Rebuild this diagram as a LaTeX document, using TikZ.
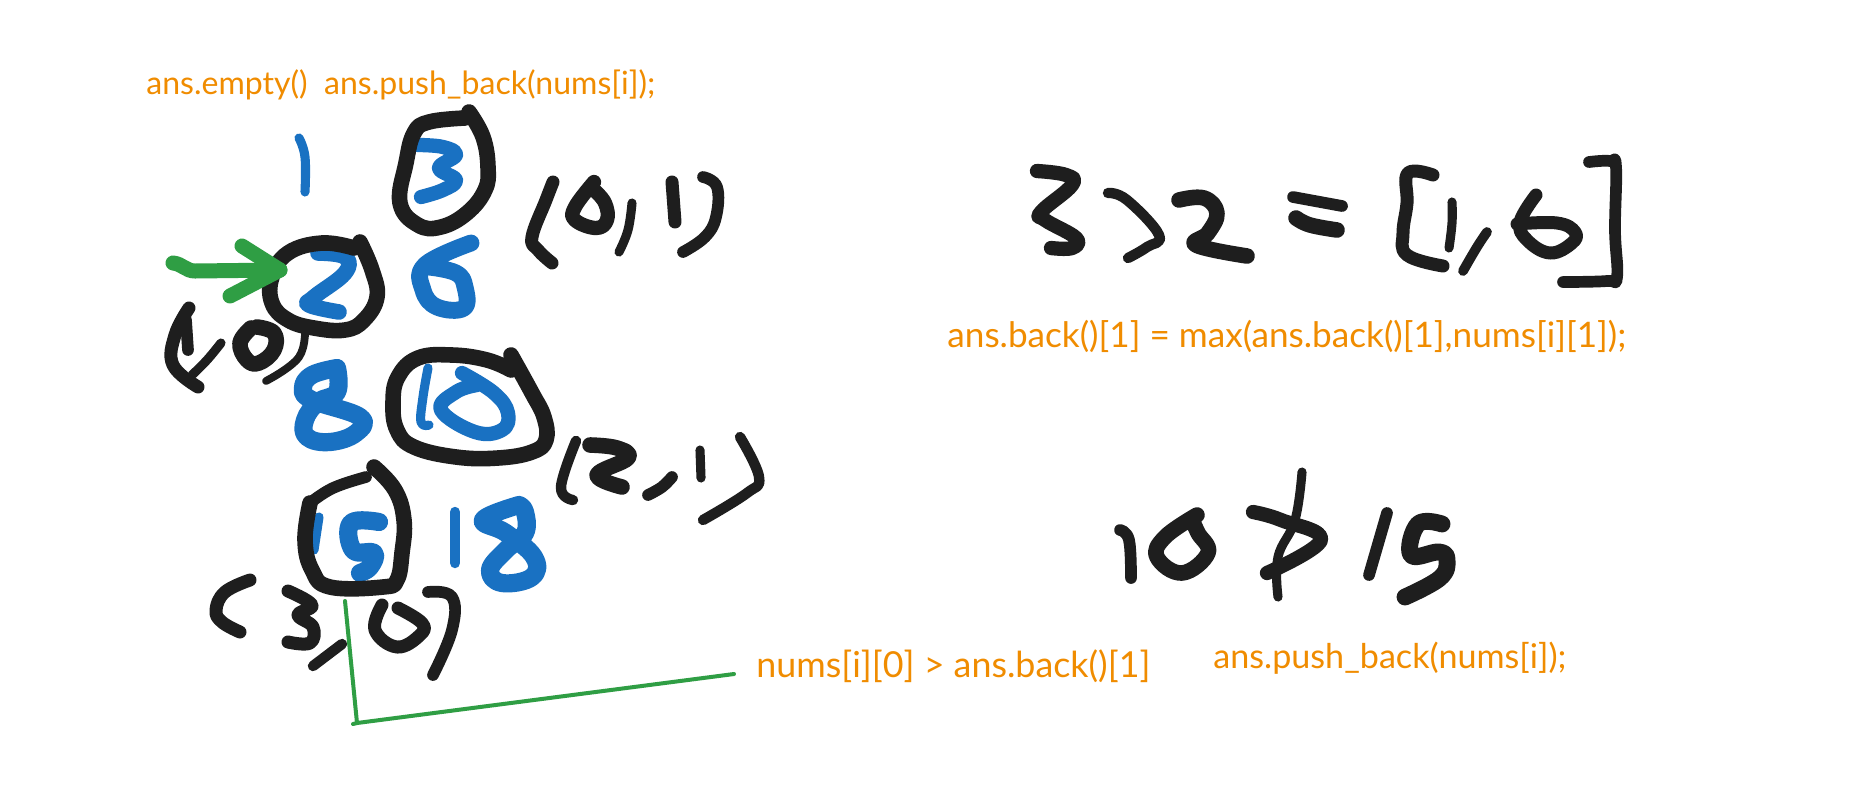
\documentclass[tikz,border=0pt]{standalone}
\usepackage{fontspec}
\setmainfont{Lato}
\definecolor{inkblack}{HTML}{1E1E1E}
\definecolor{inkblue}{HTML}{1971C2}
\definecolor{inkgreen}{HTML}{2F9E44}
\definecolor{inkorange}{HTML}{F08C00}
\tikzset{
  ink/.style={line cap=round,line join=round},
  codetext/.style={text=inkorange,inner sep=0pt,anchor=west},
}
\newcommand{\stk}[3]{\draw[ink,#1,line width=#2*0.65pt] plot[smooth,tension=0.7] coordinates {#3};}
\newcommand{\codefit}[2]{\resizebox{#1pt}{!}{#2}}
\begin{document}
\begin{tikzpicture}[x=0.5pt,y=-0.5pt]
\useasboundingbox (0,0) rectangle (1850,810);
\fill[white] (0,0) rectangle (1850,810);
% orange code labels
\node[codetext] (t1) at (146,85) {\codefit{254.5}{ans.empty()\ \ ans.push\_back(nums[i]);}};
\node[codetext] (t2) at (947,336) {\codefit{339.5}{ans.back()[1] = max(ans.back()[1],nums[i][1]);}};
\node[codetext] (t3) at (756,666) {\codefit{197}{nums[i][0] > ans.back()[1]}};
\node[codetext] (t4) at (1213,658) {\codefit{176.5}{ans.push\_back(nums[i]);}};
% blue numbers
\stk{inkblue}{7}{(299,138)(305,157)(305,192)}
\stk{inkblue}{11}{(418,145)(443,147)(456,155)(439,168)(456,180)(443,190)(421,197)}
\stk{inkblue}{12}{(318,253)(345,257)(345,273)(314,297)(309,305)(339,312)}
\stk{inkblue}{13}{(471,243)(425,265)(423,290)(437,307)(464,308)(465,287)(456,273)(429,267)}
\stk{inkblue}{14}{(337,368)(312,375)(303,388)(312,400)(360,417)(356,433)(330,442)(307,437)(305,420)(318,402)(337,392)(337,368)}
\stk{inkblue}{7}{(428,368)(423,397)(421,422)(429,425)}
\stk{inkblue}{11}{(462,373)(494,393)(508,413)(502,430)(475,432)(441,410)(456,392)(477,385)}
\stk{inkblue}{7}{(319,517)(314,550)}
\stk{inkblue}{14}{(379,522)(351,523)(353,550)(374,553)(370,567)(360,573)}
\stk{inkblue}{8}{(455,512)(455,563)}
\stk{inkblue}{14}{(519,505)(483,520)(506,533)(534,557)(532,577)(502,583)(490,570)(506,550)(525,533)(525,512)(519,505)}
% black circles
\stk{inkblack}{12}{(465,118)(429,122)(414,133)(406,163)(400,203)(418,225)(441,227)(467,213)(485,190)(488,167)(483,137)(469,112)}
\stk{inkblack}{12}{(354,248)(322,243)(288,253)(272,277)(272,303)(288,320)(314,328)(345,330)(364,320)(377,297)(372,270)(360,242)}
\stk{inkblack}{12}{(511,370)(487,360)(452,355)(418,358)(398,377)(393,403)(397,430)(414,447)(456,457)(498,458)(532,452)(546,440)(544,417)(532,393)(511,355)}
\stk{inkblack}{9}{(366,477)(333,488)(310,503)}
\stk{inkblack}{12}{(310,503)(305,540)(312,570)(330,587)(383,587)(397,580)(402,553)(404,520)(395,490)(374,467)}
% black (0,1)
\stk{inkblack}{10}{(553,182)(546,200)(532,237)(538,250)(552,263)}
\stk{inkblack}{11}{(594,182)(575,207)(575,220)(596,228)(607,220)(605,203)(594,190)}
\stk{inkblack}{7}{(632,203)(628,230)(619,252)}
\stk{inkblack}{10}{(672,182)(675,222)}
\stk{inkblack}{9}{(703,177)(717,187)(716,217)(705,237)(683,252)}
% black (1,0) by the 2
\stk{inkblack}{10}{(189,308)(175,335)(173,365)(198,387)}
\stk{inkblack}{9}{(186,320)(188,350)}
\stk{inkblack}{7}{(221,343)(207,360)(192,375)}
\stk{inkblack}{12}{(251,328)(240,343)(247,360)(259,363)(274,350)(274,333)(257,327)}
\stk{inkblack}{6}{(305,325)(299,357)(266,381)}
% black (2,1)
\stk{inkblack}{8}{(576,441)(561,487)(573,500)}
\stk{inkblack}{12}{(590,445)(617,448)(628,458)(597,475)(622,487)}
\stk{inkblack}{9}{(672,477)(662,487)(648,495)}
\stk{inkblack}{7}{(700,450)(701,478)}
\stk{inkblack}{8}{(740,437)(759,477)(747,493)(703,520)}
% black (3,0)
\stk{inkblack}{10}{(250,580)(225,592)(216,610)(222,622)(240,632)}
\stk{inkblack}{10}{(288,591)(312,605)(298,615)(313,627)(310,643)(288,642)}
\stk{inkblack}{8}{(342,644)(313,666)}
\stk{inkblack}{10}{(382,605)(375,630)(397,647)(420,635)(422,623)(398,608)}
\stk{inkblack}{9}{(428,592)(452,597)(452,630)(433,675)}
% black 3>2=[1,6]
\stk{inkblack}{11}{(1037,171)(1066,175)(1072,185)(1041,212)(1045,220)(1076,238)(1072,248)(1051,248)}
\stk{inkblack}{8}{(1108,193)(1127,200)(1159,235)(1147,247)(1128,258)}
\stk{inkblack}{12}{(1179,200)(1204,198)(1217,213)(1208,233)(1196,245)(1247,256)}
\stk{inkblack}{9}{(1293,197)(1342,206)}
\stk{inkblack}{12}{(1296,218)(1310,225)(1337,230)}
\stk{inkblack}{10}{(1433,175)(1408,173)(1407,203)(1403,233)(1407,255)(1443,266)}
\stk{inkblack}{7}{(1452,202)(1452,223)(1449,248)}
\stk{inkblack}{7.5}{(1487,232)(1477,247)(1463,271)}
\stk{inkblack}{10}{(1536,195)(1520,222)(1527,240)(1550,253)(1572,243)(1575,232)(1557,223)(1517,224)}
\stk{inkblack}{9}{(1589,162)(1610,161)(1616,167)(1615,230)(1617,277)(1607,281)(1563,282)}
% black 10 not> 15
\stk{inkblack}{9}{(1120,530)(1129,540)(1131,578)}
\stk{inkblack}{12}{(1197,515)(1165,537)(1157,557)(1182,573)(1208,553)(1198,533)(1193,522)}
\stk{inkblack}{11}{(1253,512)(1281,520)(1321,540)(1267,573)}
\stk{inkblack}{7}{(1302,472)(1295,520)(1278,557)(1278,597)}
\stk{inkblack}{9}{(1387,513)(1369,575)}
\stk{inkblack}{13}{(1442,524)(1418,524)(1411,555)(1439,552)(1447,560)(1440,578)(1405,597)}
% green arrow
\coordinate (atail) at (173,263);
\coordinate (abend) at (195,271);
\coordinate (atip) at (280,270);
\coordinate (abarbup) at (242,246);
\coordinate (abarbdn) at (230,296);
\draw[ink,inkgreen,line width=7.5pt] (atail) to[out=-5,in=180] (abend) -- (atip);
\draw[ink,inkgreen,line width=7.5pt] (abarbup) -- (atip) -- (abarbdn);
% green leader
\coordinate (lstart) at (345,601);
\coordinate (lcorner) at (357,723);
\coordinate (ltick) at (353,724);
\coordinate (lend) at (734,674);
\draw[ink,inkgreen,line width=2pt] (lstart) -- (lcorner) -- (lend);
\draw[ink,inkgreen,line width=2pt] (ltick) -- (lcorner);
\end{tikzpicture}
\end{document}
